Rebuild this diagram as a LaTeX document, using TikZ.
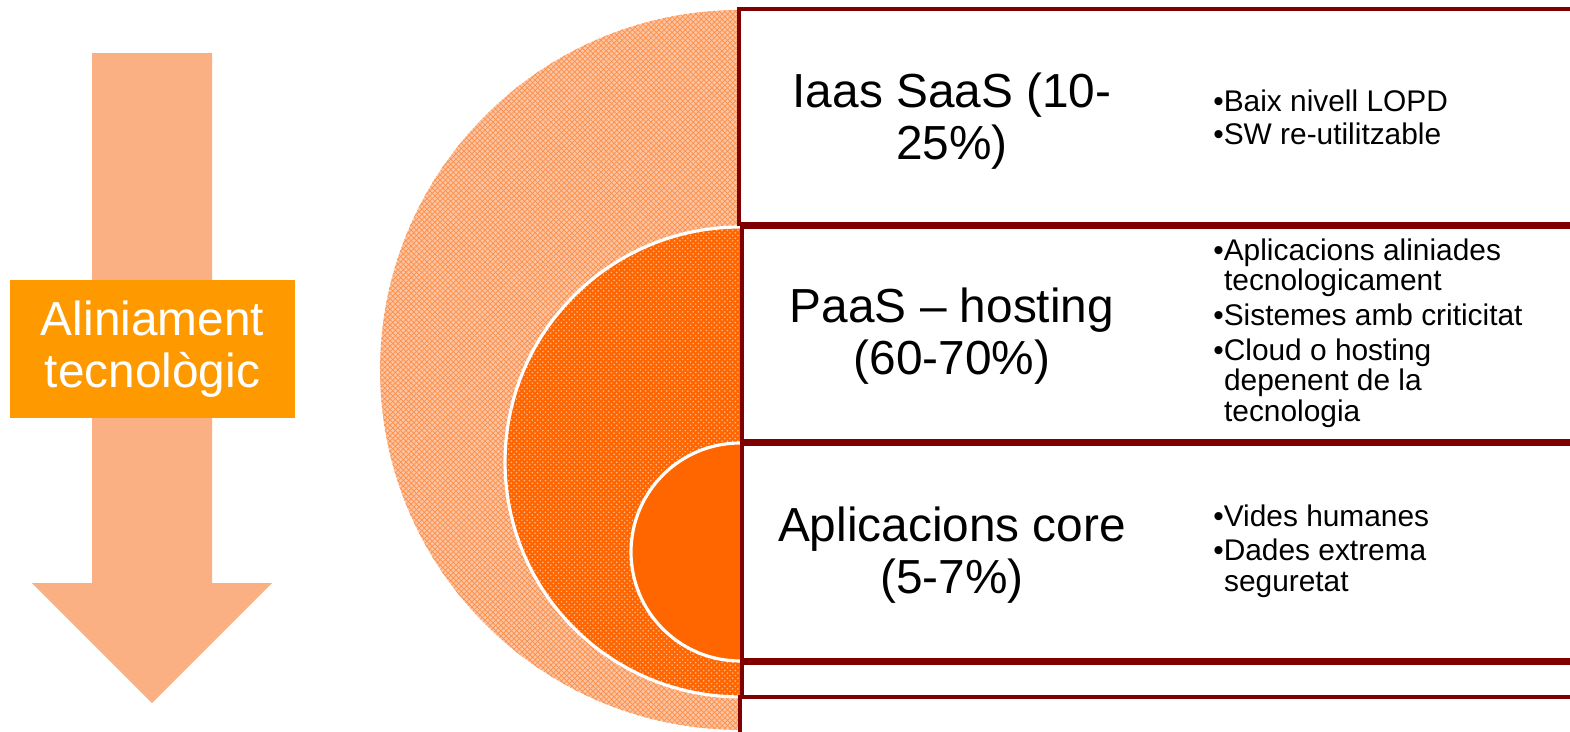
\documentclass[tikz,border=0pt]{standalone}
\usepackage{fontspec}
\setmainfont{Liberation Sans}
\usepackage{tikz}
\usepackage{xcolor}
\usetikzlibrary{positioning,patterns}

\definecolor{bandred}{RGB}{128,0,0}
\definecolor{lightor}{RGB}{251,176,132}
\definecolor{deepor}{RGB}{255,102,0}
\definecolor{boxor}{RGB}{255,153,0}

\begin{document}
\begin{tikzpicture}[x=0.02cm, y=-0.02cm,
    band/.style={draw=bandred, line width=2.3pt, fill=white},
    tier/.style={align=center, font=\fontsize{27.2}{29.5}\selectfont},
    points/.style={align=left, anchor=west, inner sep=0pt, font=\fontsize{17}{17.3}\selectfont},
    rim/.style={draw=white, line width=1.8pt}]
   \useasboundingbox (0,0) rectangle (1570,731);
   \clip (0,0) rectangle (1570,731);

   \fill[lightor] (92,53) -- (212,53) -- (212,583) -- (272,583) -- (152,703) -- (32,583) -- (92,583) -- cycle;
   \node[fill=boxor, text=white, minimum width=5.7cm, minimum height=2.76cm, tier] (align) at (152.5,349) {Aliniament\\tecnològic};

   \fill[preaction={fill=lightor!75!white}, pattern=crosshatch, pattern color=lightor!55!deepor] (740,10) arc[start angle=90, end angle=270, radius=7.2cm] -- cycle;
   \fill[preaction={fill=deepor}, pattern=crosshatch dots, pattern color=white!55!deepor] (740,227) arc[start angle=90, end angle=270, radius=4.7cm] -- cycle;
   \draw[rim] (740,227) arc[start angle=90, end angle=270, radius=4.7cm];
   \fill[deepor] (740,443) arc[start angle=90, end angle=270, radius=2.18cm] -- cycle;
   \draw[rim] (740,443) arc[start angle=90, end angle=270, radius=2.18cm];

   \draw[band] (739,9) rectangle (1600,224);
   \draw[band] (742,227) rectangle (1600,441);
   \draw[band] (742,444) rectangle (1600,660);
   \draw[band] (742,663) rectangle (1600,697);
   \draw[band] (740,697) rectangle (1600,760);

   \node[tier] (iaas) at (952,121) {Iaas SaaS (10-\\25\%)};
   \node[tier] (paas) at (952,336) {PaaS – hosting\\(60-70\%)};
   \node[tier] (core) at (952,555) {Aplicacions core\\(5-7\%)};

   \node[points] (iaaslist) at (1213,117) {•Baix nivell LOPD\\[1.5pt]•SW re-utilitzable};
   \node[points] (paaslist) at (1213,333) {•Aplicacions aliniades\\\hspace*{0.36em}tecnologicament\\[2.5pt]•Sistemes amb criticitat\\[2.5pt]•Cloud o hosting\\\hspace*{0.36em}depenent de la\\\hspace*{0.36em}tecnologia};
   \node[points] (corelist) at (1213,551) {•Vides humanes\\[2.5pt]•Dades extrema\\\hspace*{0.36em}seguretat};
\end{tikzpicture}
\end{document}
